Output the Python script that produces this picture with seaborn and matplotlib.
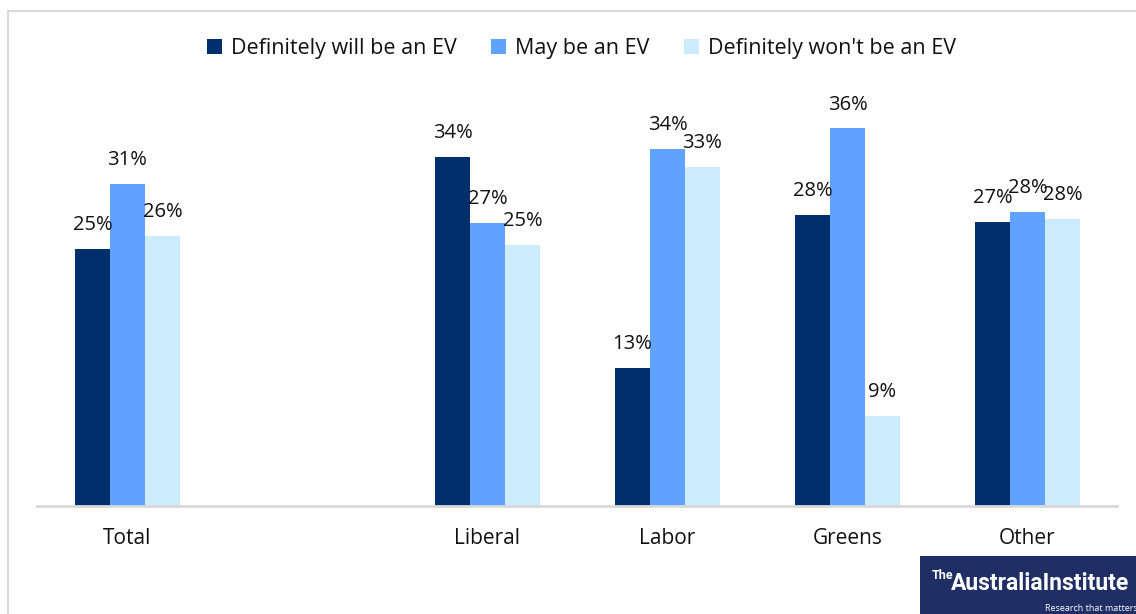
import pandas as pd
import matplotlib.pyplot as plt
import seaborn as sns
from matplotlib.patches import Rectangle

groups = ["Total", "Liberal", "Labor", "Greens", "Other"]
slots = ["Total", "", "Liberal", "Labor", "Greens", "Other"]
series = ["Definitely will be an EV", "May be an EV", "Definitely won't be an EV"]
will_ev = [24.7, 33.6, 13.3, 28.0, 27.3]
may_ev = [31.0, 27.2, 34.3, 36.3, 28.3]
wont_ev = [26.0, 25.1, 32.6, 8.7, 27.6]
colors = ["#002F6C", "#5FA3FF", "#CCEBFD"]

df = pd.DataFrame({
    "group": groups * 3,
    "series": [s for s in series for _ in groups],
    "value": will_ev + may_ev + wont_ev,
})

sns.set_theme(style="white")
plt.rcParams["font.family"] = ["Open Sans", "DejaVu Sans"]

fig = plt.figure(figsize=(11.36, 6.14), dpi=100)
ax = fig.add_axes([0.033, 0.1759, 0.9507, 0.6775])

sns.barplot(data=df, x="group", y="value", hue="series", order=slots,
            hue_order=series, palette=colors, width=0.583, gap=0,
            saturation=1, linewidth=0, ax=ax, legend=True)

for cont in ax.containers:
    ax.bar_label(cont, fmt="%.0f%%", padding=10, fontsize=14.5, color="#111111")

ax.set_ylim(0, 40)
ax.set_xlim(-0.5, 5.5)
ax.set_xlabel("")
ax.set_ylabel("")
ax.set_yticks([])
ax.tick_params(axis="x", length=0, pad=16, labelsize=15, labelcolor="#111111")
for side in ["top", "right", "left"]:
    ax.spines[side].set_visible(False)
ax.spines["bottom"].set_color("#D9D9D9")
ax.spines["bottom"].set_linewidth(2)

handles, labels = ax.get_legend_handles_labels()
ax.legend_.remove()
fig.legend(handles, labels, loc="center", bbox_to_anchor=(0.512, 0.921), ncol=3,
           frameon=False, fontsize=15.5, handlelength=0.7, handleheight=0.7,
           handletextpad=0.4, columnspacing=1.6, labelcolor="#111111")

# outer chart frame
fig.patches.append(Rectangle((8 / 1136, -0.1), 1.2, 1.1 - 11 / 614, transform=fig.transFigure,
                             fill=False, edgecolor="#D9D9D9", linewidth=1.5))

# logo block
fig.patches.append(Rectangle((920 / 1136, 0), 0.3, 58 / 614, transform=fig.transFigure,
                             facecolor="#1F2E64", edgecolor="none", zorder=5))
fig.text(932 / 1136, 0.052, "The", color="white", fontsize=9, fontweight="bold",
         va="bottom", ha="left", zorder=6, family="Roboto")
fig.text(951 / 1136, 0.031, "AustraliaInstitute", color="white", fontsize=16.5,
         fontweight="bold", va="bottom", ha="left", zorder=6, family="Roboto")
fig.text(1045 / 1136, 0.002, "Research that matters", color="white", fontsize=6.5,
         va="bottom", ha="left", zorder=6)

fig.savefig("out.png", dpi=100)
